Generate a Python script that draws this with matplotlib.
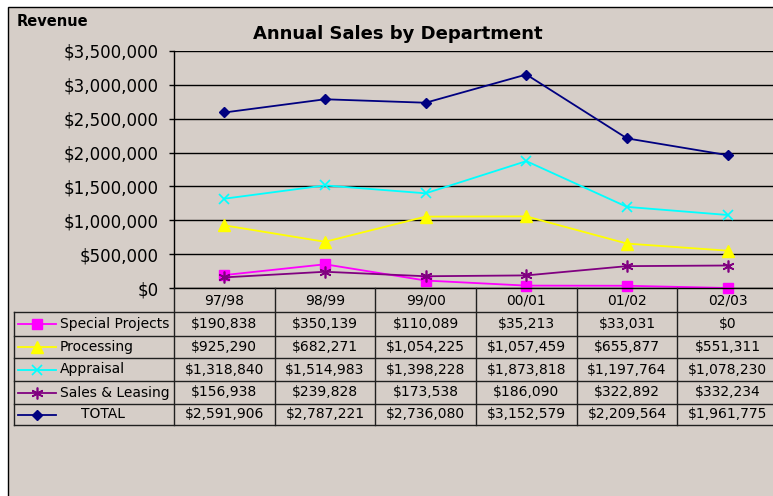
import matplotlib
matplotlib.use("Agg")
import matplotlib.pyplot as plt
from matplotlib.patches import Rectangle
from matplotlib.lines import Line2D
import matplotlib.transforms as mtransforms
from matplotlib.ticker import FuncFormatter, MultipleLocator

# ---------------- data ----------------
years = ["97/98", "98/99", "99/00", "00/01", "01/02", "02/03"]
special_projects = [190838, 350139, 110089, 35213, 33031, 0]
processing = [925290, 682271, 1054225, 1057459, 655877, 551311]
appraisal = [1318840, 1514983, 1398228, 1873818, 1197764, 1078230]
sales_leasing = [156938, 239828, 173538, 186090, 322892, 332234]
total = [2591906, 2787221, 2736080, 3152579, 2209564, 1961775]
series_names = ["Special Projects", "Processing", "Appraisal", "Sales & Leasing", "TOTAL"]

# ---------------- styles ----------------
BG = "#D6CEC8"
styles = [
    dict(color="#FF00FF", marker="s", ms=6.5, mew=1.0),
    dict(color="#FFFF00", marker="^", ms=8.0, mew=1.0),
    dict(color="#00FFFF", marker="x", ms=7.0, mew=1.2),
    dict(color="#800080", marker=(6, 2, 0), ms=8.5, mew=1.2),
    dict(color="#000080", marker="D", ms=5.0, mew=1.0),
]
series = [special_projects, processing, appraisal, sales_leasing, total]

W, H = 773, 496
fig = plt.figure(figsize=(W / 100, H / 100), dpi=100, facecolor="white")

# outer chart frame
fig.patches.append(Rectangle((8 / W, -0.02), 1.05, (H - 7) / H + 0.02,
                             transform=fig.transFigure, facecolor=BG,
                             edgecolor="black", lw=1.0, zorder=-10))

# ---------------- main plot area ----------------
x_left, x_right, y_top, y_bot = 174, 778, 51, 288
ax = fig.add_axes([x_left / W, 1 - y_bot / H, (x_right - x_left) / W, (y_bot - y_top) / H])
ax.set_facecolor("none")
ax.set_xlim(-0.5, len(years) - 0.5)
ax.set_ylim(0, 3500000)
ax.yaxis.set_major_locator(MultipleLocator(500000))
ax.yaxis.set_major_formatter(FuncFormatter(lambda v, p: f"${v:,.0f}"))
ax.set_xticks([])
for s in ["top", "right", "bottom"]:
    ax.spines[s].set_visible(False)
ax.spines["left"].set_color("black")
ax.spines["left"].set_linewidth(1.0)
ax.tick_params(axis="y", direction="out", length=3.6, width=1.0, pad=7.5,
               labelsize=12, colors="black")
ax.yaxis.grid(True, color="black", lw=1.0)
ax.set_axisbelow(True)

xs = list(range(len(years)))
for vals, st in zip(series, styles):
    ax.plot(xs, vals, color=st["color"], lw=1.3, marker=st["marker"],
            ms=st["ms"], mew=st["mew"], mfc=st["color"], mec=st["color"],
            clip_on=False, zorder=3)

# ---------------- data table ----------------
tax = fig.add_axes([0, 0, 1, 1])
tax.set_xlim(0, W)
tax.set_ylim(H, 0)
tax.axis("off")
tax.set_facecolor("none")
blend = mtransforms.blended_transform_factory(ax.transData, tax.transData)

row_lines = [288, 312, 336, 358, 381, 404, 425]
LC = "#202020"
tax.plot([-0.5, 6.0], [288, 288], color="black", lw=1.0, transform=blend, clip_on=False)
for i, yl in enumerate(row_lines):
    if i == 0:
        continue
    tax.plot([14, 790], [yl, yl], color=LC, lw=1.0, clip_on=False)
tax.plot([14, 14], [312, 425], color=LC, lw=1.0)
for i in range(len(years) + 1):
    tax.plot([i - 0.5, i - 0.5], [288, 425], color=LC, lw=1.0, transform=blend, clip_on=False)

for i, yr in enumerate(years):
    tax.text(i, 300, yr, transform=blend, ha="center", va="center", fontsize=10, color="black")

for r, (name, vals, st) in enumerate(zip(series_names, series, styles)):
    yc = (row_lines[r + 1] + row_lines[r + 2]) / 2
    tax.add_line(Line2D([18, 56], [yc, yc], color=st["color"], lw=1.3))
    tax.add_line(Line2D([37], [yc], color=st["color"], marker=st["marker"],
                        ms=st["ms"], mew=st["mew"], mfc=st["color"], mec=st["color"]))
    tx = 81 if name == "TOTAL" else 60
    tax.text(tx, yc, name, ha="left", va="center", fontsize=10, color="black")
    for i, v in enumerate(vals):
        tax.text(i, yc, f"${v:,}", transform=blend, ha="center", va="center",
                 fontsize=10, color="black")

# ---------------- titles ----------------
fig.text(398 / W, 1 - 34 / H, "Annual Sales by Department", ha="center", va="center",
         fontsize=13, fontweight="bold", color="black")
fig.text(17 / W, 1 - 22 / H, "Revenue", ha="left", va="center",
         fontsize=10.5, fontweight="bold", color="black")

fig.savefig("out.png", dpi=100, facecolor="white")
